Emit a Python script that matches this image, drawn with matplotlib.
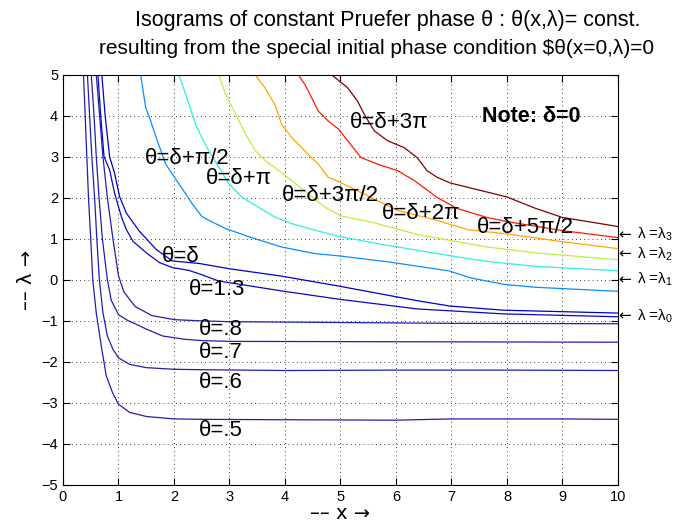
import matplotlib.pyplot as plt

plt.rcParams['font.family'] = ['Liberation Sans', 'DejaVu Sans']
plt.rcParams['mathtext.fontset'] = 'custom'
plt.rcParams['mathtext.rm'] = 'Liberation Sans'
plt.rcParams['mathtext.it'] = 'Liberation Sans'

# isogram lines (x, lambda)
x_05 = [0.37, 0.40, 0.43, 0.46, 0.50, 0.537, 0.60, 0.69, 0.78, 0.89, 1.0, 1.2, 1.5, 2.0, 2.5, 4.0, 6.0, 7.0, 9.0, 10.0]
y_05 = [5.0, 4.0, 3.0, 2.0, 1.0, 0.0, -0.81, -1.61, -2.34, -2.74, -3.03, -3.23, -3.33, -3.39, -3.40, -3.41, -3.42, -3.39, -3.39, -3.40]

x_06 = [0.44, 0.48, 0.52, 0.57, 0.61, 0.656, 0.72, 0.80, 0.90, 1.0, 1.2, 1.5, 2.0, 2.5, 4.0, 6.0, 8.0, 10.0]
y_06 = [5.0, 4.0, 3.0, 2.0, 1.0, 0.0, -0.80, -1.37, -1.69, -1.90, -2.06, -2.14, -2.18, -2.19, -2.21, -2.20, -2.20, -2.21]

x_07 = [0.51, 0.56, 0.60, 0.65, 0.71, 0.80, 0.87, 1.0, 1.18, 1.3, 1.5, 1.8, 2.2, 2.5, 3.0, 10.0]
y_07 = [5.0, 4.0, 3.0, 2.0, 1.0, 0.0, -0.5, -0.85, -1.0, -1.07, -1.2, -1.37, -1.45, -1.48, -1.50, -1.52]

x_08 = [0.60, 0.66, 0.72, 0.80, 0.90, 1.0, 1.1, 1.3, 1.6, 2.0, 2.5, 3.0, 5.0, 7.0, 10.0]
y_08 = [5.0, 4.0, 3.0, 2.0, 1.0, 0.1, -0.3, -0.65, -0.87, -0.97, -1.0, -1.02, -1.04, -1.06, -1.07]

x_13 = [0.63, 0.68, 0.74, 0.84, 0.93, 1.05, 1.14, 1.26, 1.50, 1.74, 1.97, 2.27, 2.51, 2.81, 3.94, 4.96, 6.39, 7.94, 10.0]
y_13 = [5.0, 4.0, 3.0, 2.68, 2.11, 1.55, 1.23, 0.94, 0.66, 0.42, 0.30, 0.23, 0.12, -0.03, -0.27, -0.47, -0.71, -0.83, -0.90]

x_d0 = [0.70, 0.76, 0.84, 0.93, 1.02, 1.14, 1.38, 1.68, 1.97, 2.45, 3.0, 3.94, 4.96, 6.39, 6.98, 7.94, 10.0]
y_d0 = [5.0, 4.0, 3.0, 2.6, 2.03, 1.63, 1.18, 0.74, 0.46, 0.40, 0.27, 0.09, -0.15, -0.51, -0.64, -0.74, -0.81]

x_d1 = [1.40, 1.49, 1.56, 1.70, 1.85, 2.09, 2.33, 2.50, 2.63, 2.93, 3.35, 3.94, 4.54, 5.0, 5.85, 6.95, 7.34, 7.94, 8.5, 10.0]
y_d1 = [5.0, 4.2, 3.95, 3.39, 2.82, 2.34, 1.85, 1.55, 1.45, 1.25, 1.05, 0.80, 0.64, 0.58, 0.44, 0.22, 0.05, -0.11, -0.18, -0.28]

x_d2 = [2.09, 2.21, 2.39, 2.50, 2.63, 2.81, 2.99, 3.23, 3.52, 3.82, 4.12, 4.54, 5.0, 5.85, 6.4, 6.92, 7.64, 8.5, 10.0]
y_d2 = [5.0, 4.52, 3.79, 3.47, 3.14, 2.74, 2.34, 2.01, 1.77, 1.53, 1.37, 1.21, 1.05, 0.84, 0.72, 0.60, 0.45, 0.33, 0.22]

x_d3 = [2.81, 2.93, 3.11, 3.29, 3.47, 3.65, 3.89, 4.12, 4.42, 4.72, 5.0, 5.55, 6.4, 7.64, 8.5, 10.0]
y_d3 = [5.0, 4.52, 4.03, 3.55, 3.14, 2.90, 2.66, 2.42, 2.09, 1.77, 1.56, 1.41, 1.10, 0.80, 0.66, 0.49]

x_d4 = [3.46, 3.64, 3.82, 3.94, 4.12, 4.36, 4.60, 4.78, 4.96, 5.55, 6.03, 6.74, 7.3, 8.0, 9.0, 10.0]
y_d4 = [5.0, 4.68, 4.27, 3.79, 3.47, 3.14, 2.82, 2.50, 2.40, 2.01, 1.69, 1.45, 1.22, 1.12, 0.93, 0.76]

x_d5 = [4.24, 4.36, 4.48, 4.60, 4.78, 4.96, 5.13, 5.37, 5.67, 6.03, 6.33, 6.74, 7.1, 7.64, 8.0, 9.0, 10.0]
y_d5 = [5.0, 4.76, 4.44, 4.11, 3.87, 3.68, 3.39, 2.98, 2.82, 2.66, 2.42, 2.01, 1.74, 1.52, 1.42, 1.20, 1.03]

x_d6 = [4.84, 5.13, 5.31, 5.43, 5.61, 5.85, 6.15, 6.38, 6.56, 6.74, 6.98, 7.34, 7.64, 8.0, 8.5, 9.0, 10.0]
y_d6 = [5.0, 4.68, 4.35, 4.03, 3.63, 3.39, 3.22, 2.98, 2.66, 2.50, 2.36, 2.24, 2.14, 2.02, 1.75, 1.52, 1.30]

# labels in the plot
label_text = ['θ=δ+π/2', 'θ=δ+π', 'θ=δ+3π/2', 'θ=δ+2π', 'θ=δ+5π/2', 'θ=δ+3π',
              'θ=δ', 'θ=1.3', 'θ=.8', 'θ=.7', 'θ=.6', 'θ=.5']
label_x = [1.47, 2.58, 3.94, 5.74, 7.46, 5.17, 1.79, 2.27, 2.45, 2.45, 2.45, 2.45]
label_y = [2.95, 2.48, 2.05, 1.61, 1.27, 3.84, 0.57, -0.23, -1.20, -1.78, -2.51, -3.67]

lam_names = ['0', '1', '2', '3']
lam_y = [-0.88, 0.01, 0.62, 1.10]

fig = plt.figure(figsize=(6.83, 5.29), dpi=100)
ax = fig.add_axes([0.0922, 0.0832, 0.8126, 0.7756])

dark = '#1f1fb0'
ax.plot(x_05, y_05, color=dark, lw=0.9)
ax.plot(x_06, y_06, color=dark, lw=0.9)
ax.plot(x_07, y_07, color=dark, lw=0.9)
ax.plot(x_08, y_08, color=dark, lw=0.9)
ax.plot(x_13, y_13, color='#0808c0', lw=0.9)
ax.plot(x_d0, y_d0, color='#0000d0', lw=0.9)
ax.plot(x_d1, y_d1, color='#0a8cff', lw=0.9)
ax.plot(x_d2, y_d2, color='#30f0e0', lw=0.9)
ax.plot(x_d3, y_d3, color='#b8f040', lw=0.9)
ax.plot(x_d4, y_d4, color='#ffa500', lw=0.9)
ax.plot(x_d5, y_d5, color='#ff1a00', lw=0.9)
ax.plot(x_d6, y_d6, color='#800000', lw=0.9)

for t, lx, ly in zip(label_text, label_x, label_y):
    ax.text(lx, ly, t, fontsize=16, ha='left', va='center')

ax.text(7.55, 3.98, 'Note: δ=0', fontsize=15.5, fontweight='bold', ha='left', va='center')

# lambda_n markers in the right margin
for n, ly in zip(lam_names, lam_y):
    ax.text(10.0, ly, '←', family='DejaVu Sans', fontsize=11, ha='left', va='center',
            clip_on=False)
    ax.annotate('λ =λ$_{' + n + '}$', xy=(10.0, ly), xytext=(14, 0),
                textcoords='offset points', fontsize=11, ha='left', va='center',
                annotation_clip=False)

ax.set_xlim(0, 10)
ax.set_ylim(-5, 5)
ax.set_xticks(range(0, 11))
ax.set_yticks(range(-5, 6))
ax.tick_params(direction='in', top=True, right=True, length=5, labelsize=10.5)
ax.grid(True, linestyle=(0, (1, 4)), color='black', linewidth=0.6)
for s in ax.spines.values():
    s.set_linewidth(0.8)

ax.set_xlabel('–– x →', family='DejaVu Sans', fontsize=14, labelpad=0)
ax.set_ylabel('–– λ →', family='DejaVu Sans', fontsize=14, labelpad=4)

fig.text(0.568, 0.962, 'Isograms of constant Pruefer phase θ : θ(x,λ)= const.',
         ha='center', va='center', fontsize=15.5)
fig.text(0.552, 0.909, r'resulting from the special initial phase condition \$θ(x=0,λ)=0',
         ha='center', va='center', fontsize=15)

fig.savefig('out.png', dpi=100)
